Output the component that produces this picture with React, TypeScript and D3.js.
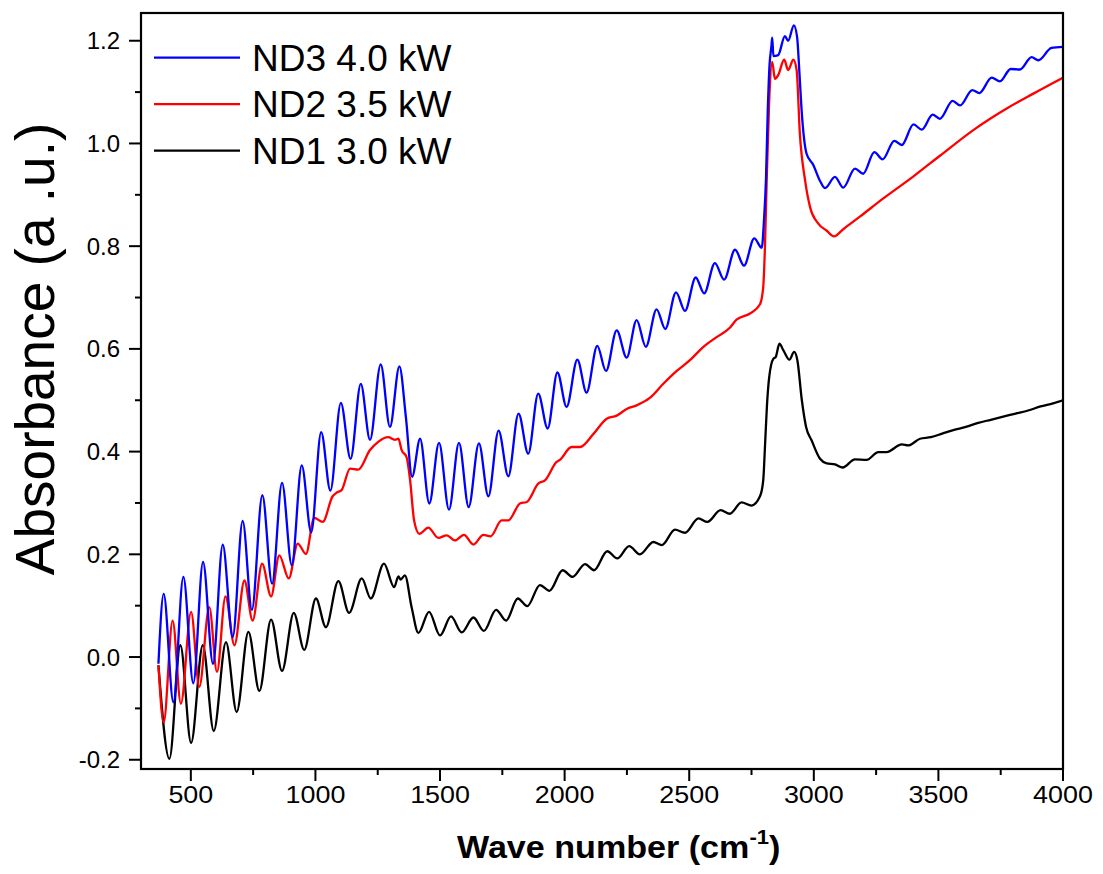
import React from "react";
import * as d3 from "d3";

const X_TICKS = [500, 1000, 1500, 2000, 2500, 3000, 3500, 4000];
const X_MINOR = [750, 1250, 1750, 2250, 2750, 3250, 3750];
const Y_TICKS = [-0.2, 0.0, 0.2, 0.4, 0.6, 0.8, 1.0, 1.2];
const Y_MINOR = [-0.1, 0.1, 0.3, 0.5, 0.7, 0.9, 1.1];

const SERIES_NAMES = ["ND3 4.0 kW", "ND2 3.5 kW", "ND1 3.0 kW"];
const SERIES_COLORS = ["#0000ff", "#ff0000", "#000000"];

const nd3: [number, number][] = [
  [370, -0.013], [391, 0.123], [430, -0.088], [470, 0.156], [510, -0.051], [549, 0.185],
  [589, -0.013], [628, 0.219], [668, 0.039], [708, 0.265], [745, 0.092], [787, 0.315],
  [826, 0.143], [866, 0.339], [905, 0.179], [945, 0.373], [983, 0.243], [1023, 0.438],
  [1060, 0.324], [1102, 0.495], [1141, 0.386], [1182, 0.532], [1219, 0.423], [1262, 0.57],
  [1299, 0.448], [1337, 0.566], [1363, 0.467], [1388, 0.351], [1420, 0.425], [1457, 0.299],
  [1496, 0.417], [1536, 0.287], [1576, 0.417], [1615, 0.292], [1656, 0.416], [1694, 0.313],
  [1735, 0.441], [1774, 0.352], [1815, 0.474], [1854, 0.396], [1894, 0.513], [1932, 0.445],
  [1971, 0.554], [2008, 0.487], [2051, 0.579], [2088, 0.515], [2131, 0.606], [2166, 0.557],
  [2209, 0.636], [2249, 0.583], [2289, 0.656], [2326, 0.604], [2369, 0.677], [2404, 0.639],
  [2447, 0.71], [2483, 0.674], [2526, 0.739], [2560, 0.708], [2603, 0.767], [2640, 0.735],
  [2684, 0.793], [2720, 0.762], [2761, 0.815], [2791, 0.797], [2800, 0.85], [2808, 0.93],
  [2815, 1.06], [2822, 1.15], [2830, 1.19], [2833, 1.206], [2838, 1.17], [2857, 1.172],
  [2884, 1.209], [2897, 1.2], [2920, 1.23], [2933, 1.207], [2942, 1.14], [2951, 1.065],
  [2971, 0.98], [2998, 0.958], [3024, 0.928], [3045, 0.913], [3085, 0.935], [3118, 0.914],
  [3165, 0.951], [3198, 0.941], [3243, 0.983], [3276, 0.969], [3323, 1.005], [3353, 0.997],
  [3400, 1.037], [3433, 1.027], [3477, 1.056], [3506, 1.048], [3557, 1.083], [3587, 1.074],
  [3636, 1.104], [3664, 1.098], [3714, 1.128], [3747, 1.121], [3790, 1.145], [3827, 1.144],
  [3874, 1.168], [3901, 1.162], [3954, 1.186], [4000, 1.188],
];

const nd2: [number, number][] = [
  [370, -0.016], [391, -0.127], [427, 0.071], [460, -0.091], [501, 0.088], [534, -0.058],
  [574, 0.097], [605, -0.029], [639, 0.118], [675, 0.023], [715, 0.149], [748, 0.071],
  [786, 0.182], [822, 0.118], [855, 0.198], [893, 0.153], [929, 0.221], [962, 0.201],
  [995, 0.271], [1029, 0.263], [1069, 0.313], [1085, 0.32], [1105, 0.325], [1139, 0.367],
  [1172, 0.365], [1219, 0.403], [1252, 0.419], [1292, 0.428], [1319, 0.423], [1333, 0.425],
  [1346, 0.403], [1366, 0.389], [1380, 0.344], [1396, 0.266], [1417, 0.24], [1453, 0.252],
  [1493, 0.232], [1527, 0.237], [1560, 0.227], [1596, 0.238], [1634, 0.219], [1674, 0.238],
  [1703, 0.235], [1747, 0.266], [1774, 0.266], [1821, 0.299], [1848, 0.302], [1895, 0.338],
  [1921, 0.344], [1968, 0.38], [1981, 0.384], [2028, 0.409], [2062, 0.409], [2115, 0.434],
  [2169, 0.464], [2209, 0.47], [2249, 0.483], [2289, 0.49], [2343, 0.505], [2396, 0.532],
  [2450, 0.557], [2503, 0.578], [2557, 0.604], [2610, 0.623], [2663, 0.641], [2690, 0.657],
  [2744, 0.669], [2784, 0.687], [2797, 0.72], [2804, 0.8], [2811, 0.93], [2821, 1.084],
  [2833, 1.159], [2844, 1.126], [2857, 1.133], [2881, 1.163], [2897, 1.143], [2918, 1.163],
  [2931, 1.143], [2944, 1.019], [2965, 0.928], [2985, 0.876], [3018, 0.844], [3052, 0.83],
  [3081, 0.819], [3118, 0.833], [3186, 0.858], [3279, 0.893], [3400, 0.936], [3506, 0.976],
  [3640, 1.026], [3774, 1.068], [3881, 1.097], [4000, 1.128],
];

const nd1: [number, number][] = [
  [370, -0.016], [414, -0.198], [458, 0.023], [501, -0.167], [548, 0.023], [592, -0.144],
  [641, 0.029], [684, -0.107], [731, 0.049], [775, -0.066], [822, 0.073], [866, -0.027],
  [913, 0.086], [955, 0.014], [1002, 0.114], [1042, 0.058], [1092, 0.148], [1135, 0.086],
  [1186, 0.153], [1222, 0.114], [1275, 0.182], [1316, 0.136], [1333, 0.157], [1342, 0.151],
  [1359, 0.159], [1386, 0.097], [1413, 0.047], [1456, 0.088], [1500, 0.042], [1544, 0.079],
  [1587, 0.048], [1634, 0.077], [1676, 0.051], [1725, 0.092], [1765, 0.071], [1812, 0.114],
  [1850, 0.099], [1901, 0.14], [1939, 0.129], [1992, 0.169], [2032, 0.156], [2082, 0.181],
  [2118, 0.169], [2171, 0.206], [2211, 0.192], [2259, 0.216], [2302, 0.2], [2356, 0.224],
  [2390, 0.218], [2443, 0.248], [2483, 0.242], [2537, 0.27], [2573, 0.263], [2626, 0.286],
  [2663, 0.279], [2710, 0.301], [2750, 0.295], [2784, 0.313], [2797, 0.344], [2805, 0.42],
  [2812, 0.49], [2821, 0.545], [2838, 0.581], [2847, 0.584], [2862, 0.61], [2878, 0.597],
  [2902, 0.579], [2921, 0.594], [2934, 0.578], [2952, 0.5], [2969, 0.448], [2991, 0.422],
  [3025, 0.386], [3052, 0.377], [3085, 0.375], [3116, 0.369], [3165, 0.385], [3212, 0.384],
  [3259, 0.399], [3292, 0.399], [3353, 0.414], [3379, 0.412], [3426, 0.425], [3470, 0.428],
  [3520, 0.436], [3560, 0.442], [3610, 0.448], [3660, 0.456], [3710, 0.462], [3760, 0.468],
  [3810, 0.474], [3860, 0.48], [3910, 0.488], [3960, 0.494], [4000, 0.5],
];

const SERIES = [nd3, nd2, nd1];

const W = 1103;
const H = 874;
const L = 141, R = 1063, T = 13, B = 769;
const FONT = "'Liberation Sans', Arial, Helvetica, sans-serif";

export default function App() {
  const x = d3.scaleLinear().domain([300, 4000]).range([L, R]);
  const y = d3.scaleLinear().domain([-0.218, 1.254]).range([B, T]);
  const line = d3
    .line<[number, number]>()
    .x((d) => x(d[0]))
    .y((d) => y(d[1]))
    .curve(d3.curveMonotoneX);

  const order = [2, 1, 0];

  return (
    <svg
      width={W}
      height={H}
      style={{ position: "absolute", left: 0, top: 0, display: "block", background: "#fff" }}
      fontFamily={FONT}
    >
      <defs>
        <clipPath id="plot">
          <rect x={L} y={T} width={R - L} height={B - T} />
        </clipPath>
      </defs>
      <rect x={0} y={0} width={W} height={H} fill="#fff" />
      <g clipPath="url(#plot)">
        {order.map((i) => (
          <path
            key={i}
            d={line(SERIES[i]) || ""}
            fill="none"
            stroke={SERIES_COLORS[i]}
            strokeWidth={2.3}
            strokeLinejoin="round"
          />
        ))}
      </g>
      <rect x={L} y={T} width={R - L} height={B - T} fill="none" stroke="#000" strokeWidth={2.2} />
      {X_TICKS.map((t) => (
        <g key={"xt" + t}>
          <line x1={x(t)} x2={x(t)} y1={B} y2={B + 12} stroke="#000" strokeWidth={2} />
          <text
            transform={`translate(${x(t)}, 803) scale(1.12, 1)`}
            textAnchor="middle"
            fontSize={24}
          >
            {t}
          </text>
        </g>
      ))}
      {X_MINOR.map((t) => (
        <line key={"xm" + t} x1={x(t)} x2={x(t)} y1={B} y2={B + 6} stroke="#000" strokeWidth={2} />
      ))}
      {Y_TICKS.map((t) => (
        <g key={"yt" + t}>
          <line x1={L - 12} x2={L} y1={y(t)} y2={y(t)} stroke="#000" strokeWidth={2} />
          <text x={120} y={y(t) + 8.5} textAnchor="end" fontSize={24}>
            {t.toFixed(1)}
          </text>
        </g>
      ))}
      {Y_MINOR.map((t) => (
        <line key={"ym" + t} x1={L - 6} x2={L} y1={y(t)} y2={y(t)} stroke="#000" strokeWidth={2} />
      ))}
      <text transform="translate(457, 858) scale(1.1, 1)" fontSize={31} fontWeight="bold">
        Wave number (cm
        <tspan fontSize={20} dy={-14}>-1</tspan>
        <tspan dy={14}>)</tspan>
      </text>
      <text
        transform={`translate(54, 349) rotate(-90)`}
        textAnchor="middle"
        fontSize={55}
      >
        Absorbance (a .u.)
      </text>
      {SERIES_NAMES.map((name, i) => (
        <g key={name}>
          <line
            x1={154}
            x2={240}
            y1={57.7 + i * 46.5}
            y2={57.7 + i * 46.5}
            stroke={SERIES_COLORS[i]}
            strokeWidth={2.3}
          />
          <text x={252} y={57.7 + i * 46.5 + 13} fontSize={37}>
            {name}
          </text>
        </g>
      ))}
    </svg>
  );
}
